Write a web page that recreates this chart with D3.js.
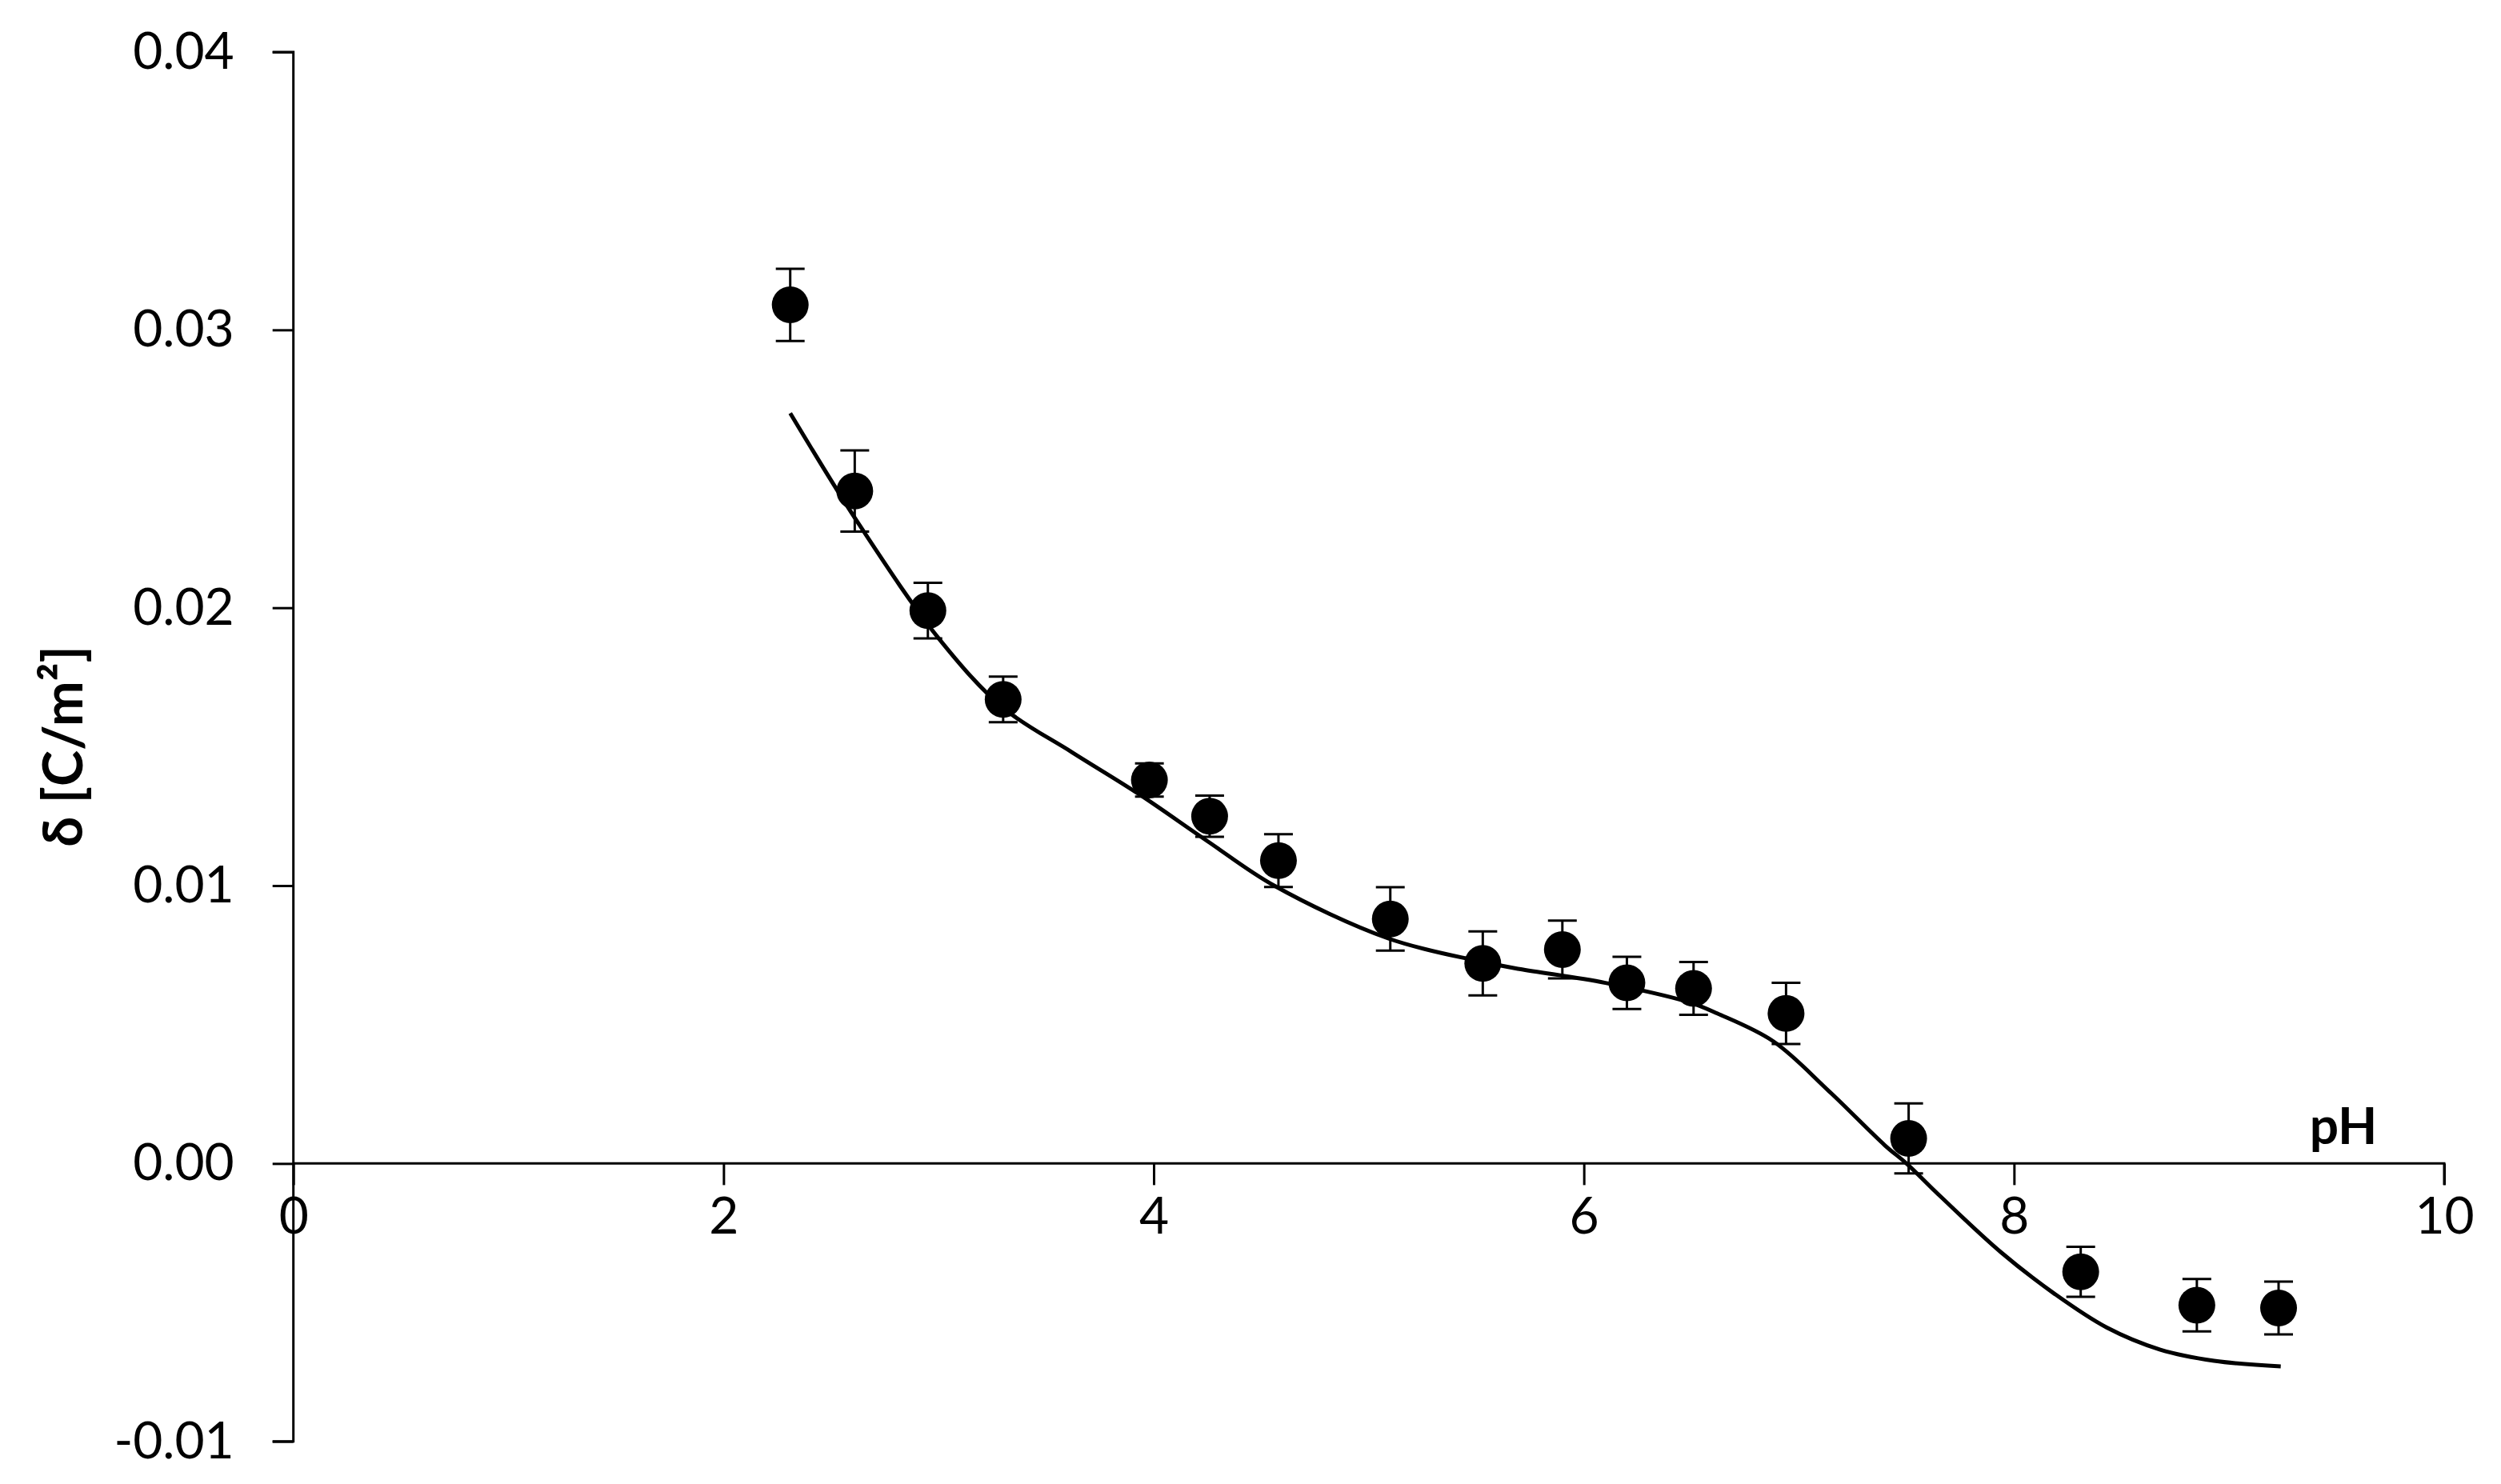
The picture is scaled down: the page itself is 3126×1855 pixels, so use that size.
<!DOCTYPE html>
<html>
<head>
<meta charset="utf-8">
<script src="https://cdn.jsdelivr.net/npm/d3@7"></script>
<style>
  html, body { margin: 0; padding: 0; background: #fff; }
  svg { display: block; }
</style>
</head>
<body>
<svg id="chart" width="3126" height="1855"></svg>
<script>
// ---- Data ----
const pointPH    = [2.31, 2.61, 2.95, 3.30, 3.98, 4.26, 4.58, 5.10, 5.53, 5.90, 6.20, 6.51, 6.94, 7.51, 8.31, 8.85, 9.23];
const pointDelta = [0.0309, 0.0242, 0.0199, 0.0167, 0.0138, 0.0125, 0.0109, 0.0088, 0.0072, 0.0077, 0.0065, 0.0063, 0.0054, 0.0009, -0.0039, -0.0051, -0.0052];
const pointErr   = [0.0013, 0.00146, 0.0010, 0.00082, 0.0006, 0.00074, 0.00095, 0.00114, 0.00115, 0.00104, 0.00094, 0.00095, 0.0011, 0.00126, 0.0009, 0.00094, 0.00095];

const curvePH    = [2.31, 2.63, 3.00, 3.30, 3.62, 3.93, 4.25, 4.56, 5.09, 5.50, 5.70, 6.10, 6.49, 6.62, 6.88, 7.14, 7.40, 7.50, 7.66, 7.94, 8.19, 8.43, 8.68, 8.93, 9.24];
const curveDelta = [0.0270, 0.0230, 0.0189, 0.0164, 0.0148, 0.0133, 0.0116, 0.0100, 0.0081, 0.0073, 0.0070, 0.0065, 0.0058, 0.0054, 0.0044, 0.0026, 0.00065, 0.0, -0.0012, -0.0032, -0.0047, -0.0059, -0.0067, -0.0071, -0.0073];

const xTicks = [0, 2, 4, 6, 8, 10];
const xTickLabels = ["0", "2", "4", "6", "8", "10"];
const yTicks = [-0.01, 0, 0.01, 0.02, 0.03, 0.04];
const yTickLabels = ["-0.01", "0.00", "0.01", "0.02", "0.03", "0.04"];

// ---- Layout ----
const svg = d3.select("#chart");
const x = d3.scaleLinear().domain([0, 10]).range([366.7, 3055]);
const y = d3.scaleLinear().domain([-0.01, 0.04]).range([1801.7, 65]);
const font = "Lato, 'Open Sans', 'Liberation Sans', sans-serif";

// y axis
const yAxis = d3.axisLeft(y).tickValues(yTicks).tickFormat((d, i) => yTickLabels[i]).tickSize(26).tickPadding(48);
const gy = svg.append("g").attr("transform", `translate(${x(0)},0)`).call(yAxis);
gy.select(".domain").attr("stroke", "#000").attr("stroke-width", 3).attr("d", `M-26,${y(0.04)}H0V${y(-0.01)}H-26`);
gy.selectAll(".tick line").attr("stroke", "#000").attr("stroke-width", 3);
gy.selectAll(".tick text").attr("font-family", font).attr("font-size", 64).attr("fill", "#000");

// x axis at y = 0
const xAxis = d3.axisBottom(x).tickValues(xTicks).tickFormat((d, i) => xTickLabels[i]).tickSize(27).tickPadding(48);
const gx = svg.append("g").attr("transform", `translate(0,${y(0)})`).call(xAxis);
gx.select(".domain").attr("stroke", "#000").attr("stroke-width", 3).attr("d", `M${x(0)},0H${x(10)}V27`);
gx.selectAll(".tick line").attr("stroke", "#000").attr("stroke-width", 3);
gx.selectAll(".tick text").attr("font-family", font).attr("font-size", 64).attr("fill", "#000").attr("dy", "0.2em");

// axis titles
svg.append("text")
  .attr("x", 2929).attr("y", 1430)
  .attr("text-anchor", "middle")
  .attr("font-family", font).attr("font-size", 64).attr("font-weight", "bold")
  .text("pH");

svg.append("text")
  .attr("transform", "translate(76,933) rotate(-90)")
  .attr("text-anchor", "middle")
  .attr("dominant-baseline", "central")
  .attr("font-family", font).attr("font-size", 68).attr("font-weight", "bold")
  .text("δ [C/m²]");

// model curve
const curveData = curvePH.map((p, i) => [p, curveDelta[i]]);
svg.append("path")
  .datum(curveData)
  .attr("fill", "none")
  .attr("stroke", "#000")
  .attr("stroke-width", 5)
  .attr("stroke-linejoin", "round")
  .attr("d", d3.line().x(d => x(d[0])).y(d => y(d[1])).curve(d3.curveCatmullRom.alpha(0.5)));

// points with error bars
const pts = pointPH.map((p, i) => ({ p, v: pointDelta[i], e: pointErr[i] }));
const g = svg.append("g");
const eb = g.selectAll("g.eb").data(pts).join("g").attr("class", "eb")
  .attr("stroke", "#000").attr("stroke-width", 3);
eb.append("line").attr("x1", d => x(d.p)).attr("x2", d => x(d.p)).attr("y1", d => y(d.v + d.e)).attr("y2", d => y(d.v - d.e));
eb.append("line").attr("x1", d => x(d.p) - 18).attr("x2", d => x(d.p) + 18).attr("y1", d => y(d.v + d.e)).attr("y2", d => y(d.v + d.e));
eb.append("line").attr("x1", d => x(d.p) - 18).attr("x2", d => x(d.p) + 18).attr("y1", d => y(d.v - d.e)).attr("y2", d => y(d.v - d.e));

g.selectAll("circle").data(pts).join("circle")
  .attr("cx", d => x(d.p)).attr("cy", d => y(d.v)).attr("r", 23)
  .attr("fill", "#000");
</script>
</body>
</html>
